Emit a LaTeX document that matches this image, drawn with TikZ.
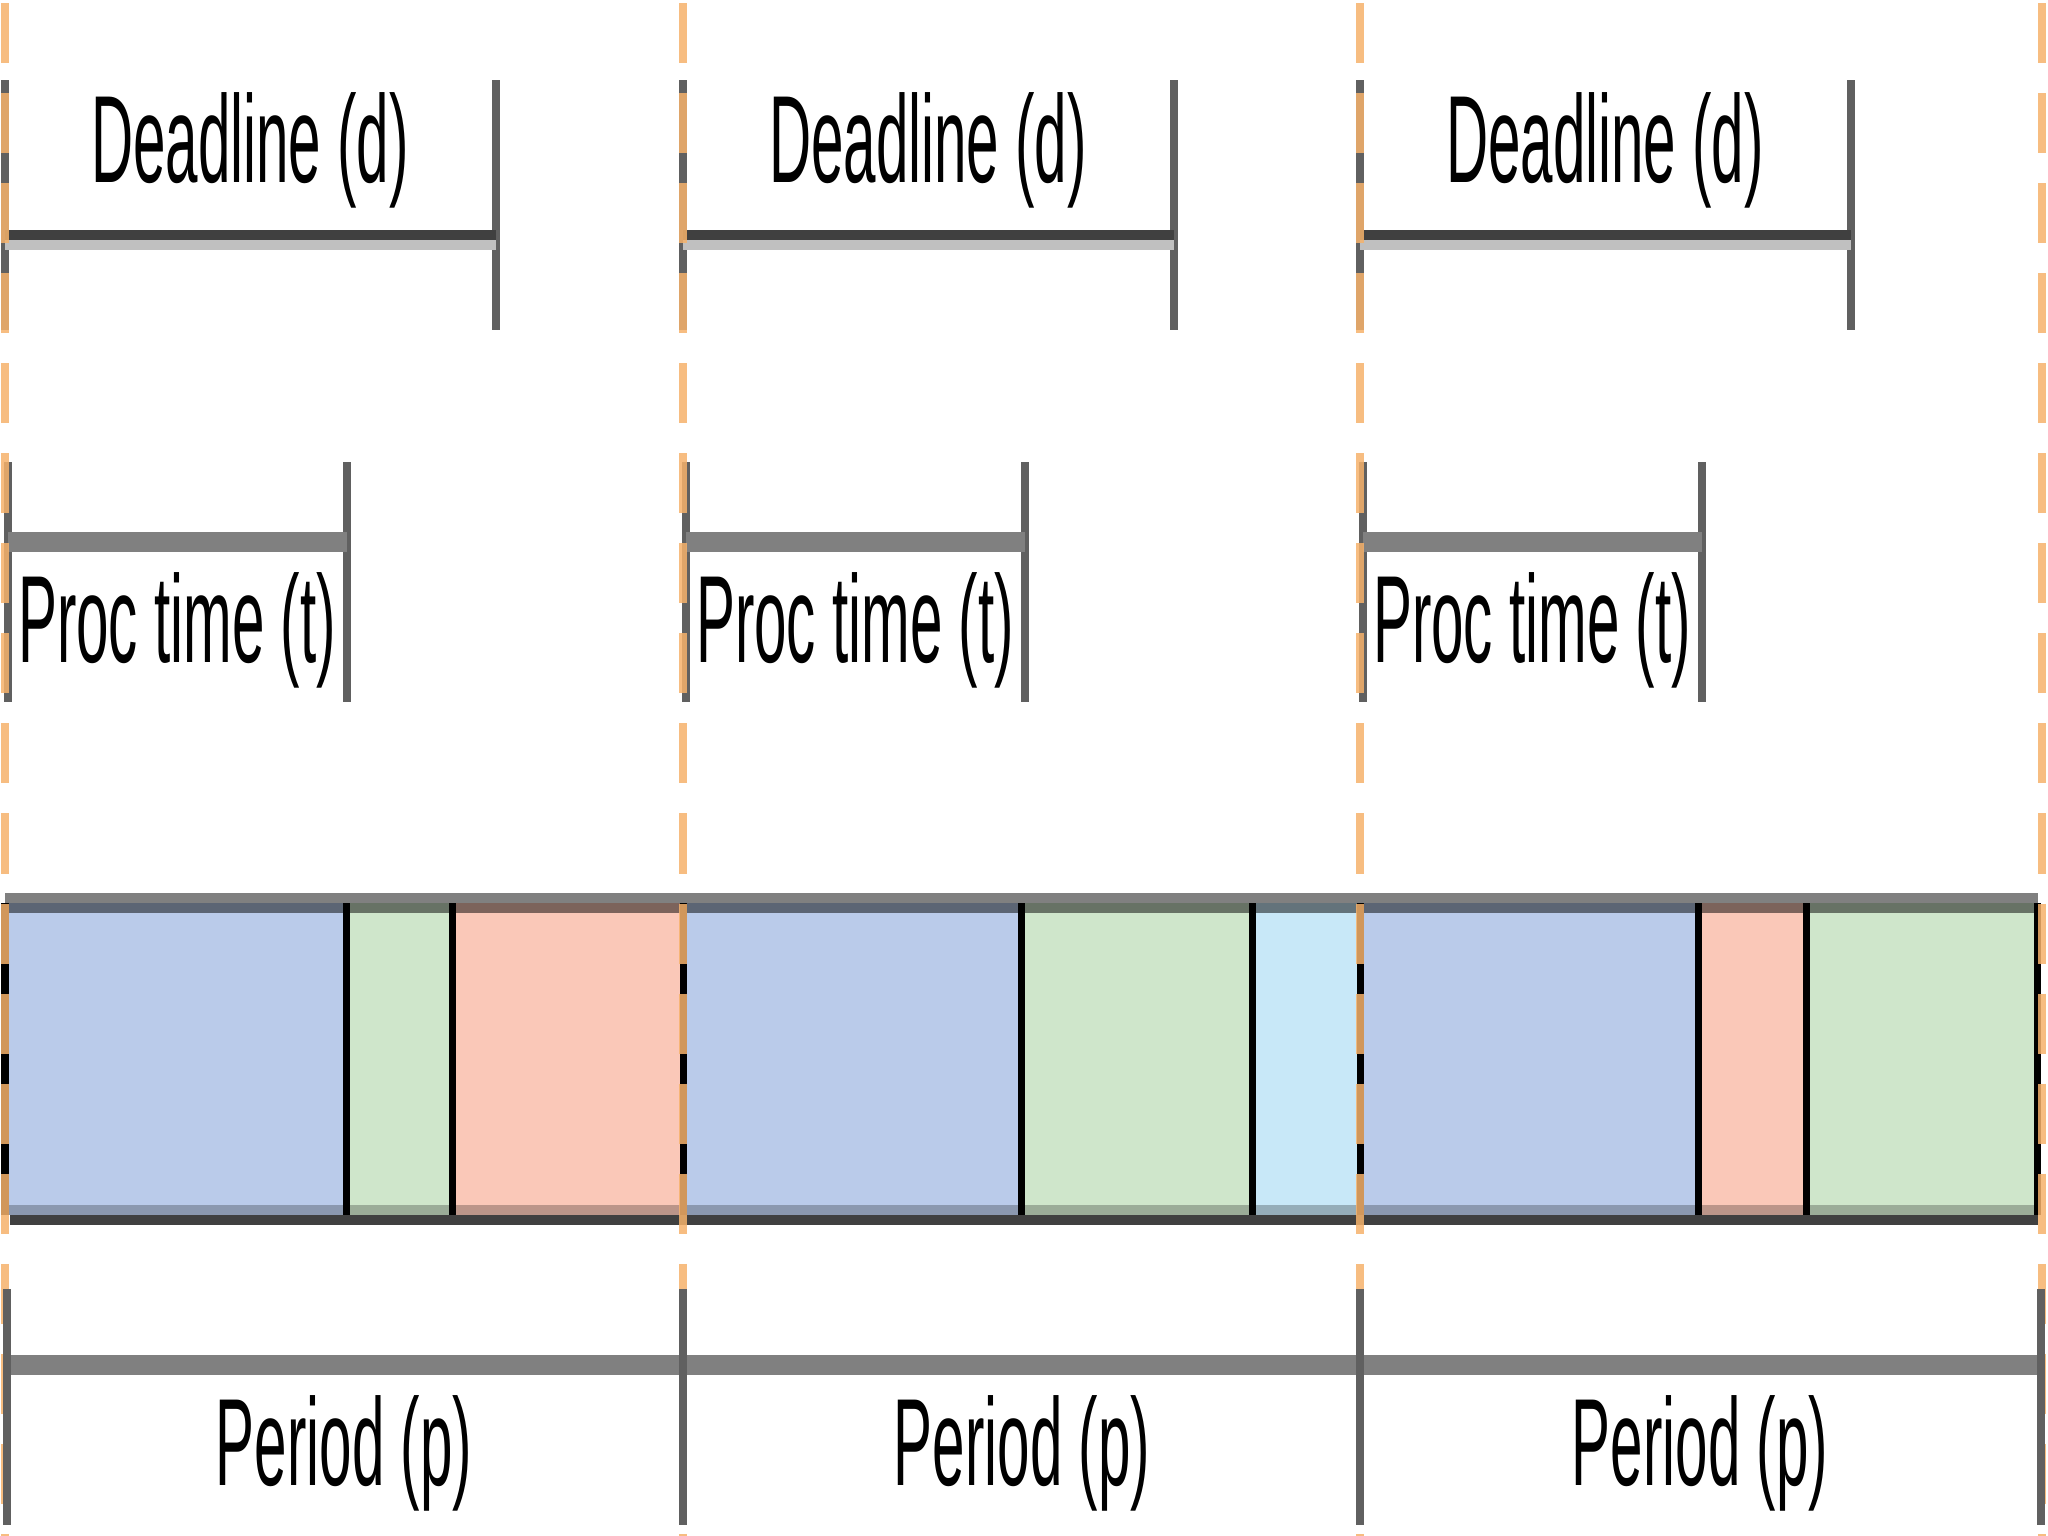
\documentclass[tikz,border=0pt]{standalone}
\usepackage{fontspec}
\setmainfont{Liberation Sans}
\definecolor{segblue}{RGB}{186,203,234}
\definecolor{seggreen}{RGB}{207,230,203}
\definecolor{segsalmon}{RGB}{250,200,184}
\definecolor{segsky}{RGB}{200,232,248}
\definecolor{dashorange}{RGB}{246,178,107}
\definecolor{midgray}{RGB}{128,128,128}
\definecolor{darkgray}{RGB}{64,64,64}
\definecolor{lightgray}{RGB}{192,192,192}
\definecolor{tickgray}{RGB}{96,96,96}
\begin{document}
\begin{tikzpicture}[x=0.01cm,y=-0.01cm,
  tickline/.style={draw=tickgray,line width=0.08cm},
  divline/.style={draw=black,line width=0.07cm},
  orangedash/.style={draw=dashorange,opacity=0.85,line width=0.08cm,
     dash pattern=on 0.6cm off 0.3cm,dash phase=0.87cm},
  lbl/.style={anchor=base,inner sep=0pt,font=\fontsize{35.3}{40}\selectfont,text=black}]
\useasboundingbox (0,0) rectangle (2048,1536);
\fill[white] (0,0) rectangle (2048,1536);

% ---- bar segments ----
\foreach \a/\b/\c in {5/346/segblue,346/452/seggreen,452/683/segsalmon,
                      683/1021/segblue,1021/1252/seggreen,1252/1360/segsky,
                      1360/1698/segblue,1698/1806/segsalmon,1806/2037/seggreen}
  \fill[\c] (\a,903) rectangle (\b,1215);
\fill[black,opacity=0.5] (5,903) rectangle (2037,913);
\fill[black,opacity=0.25] (5,1205) rectangle (2037,1215);
\draw[midgray,line width=0.1cm] (5,898) -- (2038,898);
\draw[darkgray,line width=0.1cm] (10,1220) -- (2038,1220);
\foreach \x in {5,346,452,683,1021,1252,1360,1698,1806,2037}
  \draw[divline] (\x,903) -- (\x,1215);

% ---- deadline brackets ----
\foreach \x/\n in {5/1,683/2,1360/3}{
  \draw[tickline] (\x,80) -- (\x,330);
  \draw[tickline] (\x+491,80) -- (\x+491,330);
  \draw[darkgray,line width=0.1cm] (\x,235) -- (\x+491,235);
  \draw[lightgray,line width=0.1cm] (\x,245) -- (\x+491,245);
  \node[lbl] (dl\n) at (\x+245,182) {\scalebox{0.47}[1]{Deadline (d)}};
}

% ---- processing time brackets ----
\foreach \x/\n in {5/1,683/2,1360/3}{
  \draw[tickline] (\x+3,462) -- (\x+3,702);
  \draw[tickline] (\x+342,462) -- (\x+342,702);
  \draw[midgray,line width=0.2cm] (\x+3,542) -- (\x+342,542);
  \node[lbl] (pt\n) at (\x+172,662) {\scalebox{0.47}[1]{Proc time (t)}};
}

% ---- orange dashed period boundaries ----
\foreach \x in {5,683,1360,2042}
  \draw[orangedash] (\x,0) -- (\x,1536);

% ---- period brackets ----
\draw[midgray,line width=0.2cm] (5,1365) -- (2042,1365);
\foreach \x in {7,683,1360,2041}
  \draw[tickline] (\x,1289) -- (\x,1525);
\node[lbl] (pd1) at (344,1485) {\scalebox{0.47}[1]{Period (p)}};
\node[lbl] (pd2) at (1022,1485) {\scalebox{0.47}[1]{Period (p)}};
\node[lbl] (pd3) at (1700,1485) {\scalebox{0.47}[1]{Period (p)}};
\end{tikzpicture}
\end{document}
